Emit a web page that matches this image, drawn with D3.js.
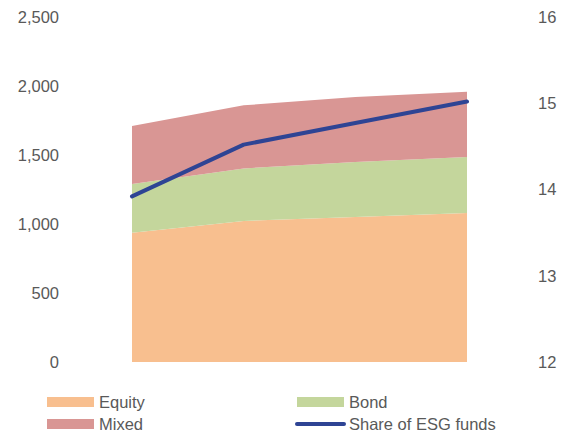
<!DOCTYPE html>
<html><head><meta charset="utf-8">
<script src="https://cdn.jsdelivr.net/npm/d3@7/dist/d3.min.js"></script>
<style>body{margin:0;background:#fff}svg{display:block}text{font-family:"Liberation Sans",Arial,sans-serif}</style>
</head><body><svg id="c" width="567" height="436"></svg>
<script>
const periods = ["P1","P2","P3","P4"];
const equity = [937, 1022, 1050, 1080];
const bond = [353, 381, 399, 406];
const mixed = [420, 457, 471, 473];
const esgShare = [13.92, 14.52, 14.77, 15.02];
const leftTicks = [0, 500, 1000, 1500, 2000, 2500];
const rightTicks = [12, 13, 14, 15, 16];

const svg = d3.select("#c");
const x = d3.scalePoint().domain(periods).range([132, 467]);
const yL = d3.scaleLinear().domain([0, 2500]).range([362, 17]);
const yR = d3.scaleLinear().domain([12, 16]).range([362, 17]);

const rows = periods.map((p, i) => ({p, Equity: equity[i], Bond: bond[i], Mixed: mixed[i]}));
const keys = ["Equity", "Bond", "Mixed"];
const colors = {Equity: "#F8BF8F", Bond: "#C4D69C", Mixed: "#D99694"};
const stack = d3.stack().keys(keys)(rows);
const area = d3.area().x(d => x(d.data.p)).y0(d => yL(d[0])).y1(d => yL(d[1]));
svg.append("g").selectAll("path").data(stack).join("path")
  .attr("d", area).attr("fill", d => colors[d.key]);

const line = d3.line().x((d, i) => x(periods[i])).y(d => yR(d));
svg.append("path").datum(esgShare).attr("d", line).attr("fill", "none")
  .attr("stroke", "#2E4494").attr("stroke-width", 4).attr("stroke-linecap", "round").attr("stroke-linejoin", "round");

const FS = 16.5;
const gl = svg.append("g").attr("transform", "translate(59,0)")
  .call(d3.axisLeft(yL).tickValues(leftTicks).tickSize(0).tickPadding(0).tickFormat(d3.format(",")));
gl.select(".domain").remove();
gl.selectAll("text").attr("font-size", FS).attr("fill", "#595959").style("font-family", '"Liberation Sans",Arial,sans-serif');

const gr = svg.append("g").attr("transform", "translate(538,0)")
  .call(d3.axisRight(yR).tickValues(rightTicks).tickSize(0).tickPadding(0).tickFormat(d3.format("d")));
gr.select(".domain").remove();
gr.selectAll("text").attr("font-size", FS).attr("fill", "#595959").style("font-family", '"Liberation Sans",Arial,sans-serif');

const legend = [
  {name: "Equity", type: "area", color: colors.Equity, x: 47, y: 402},
  {name: "Bond", type: "area", color: colors.Bond, x: 297, y: 402},
  {name: "Mixed", type: "area", color: colors.Mixed, x: 47, y: 424},
  {name: "Share of ESG funds", type: "line", color: "#2E4494", x: 297, y: 424}
];
const lg = svg.append("g");
legend.forEach(l => {
  if (l.type === "area") {
    lg.append("rect").attr("x", l.x).attr("y", l.y - 5).attr("width", 47).attr("height", 10).attr("fill", l.color);
  } else {
    lg.append("line").attr("x1", l.x).attr("x2", l.x + 47).attr("y1", l.y).attr("y2", l.y)
      .attr("stroke", l.color).attr("stroke-width", 4).attr("stroke-linecap", "round");
  }
  lg.append("text").attr("x", l.x + 52).attr("y", l.y).attr("dy", "0.35em")
    .attr("font-size", FS).attr("fill", "#595959").text(l.name);
});
</script></body></html>
